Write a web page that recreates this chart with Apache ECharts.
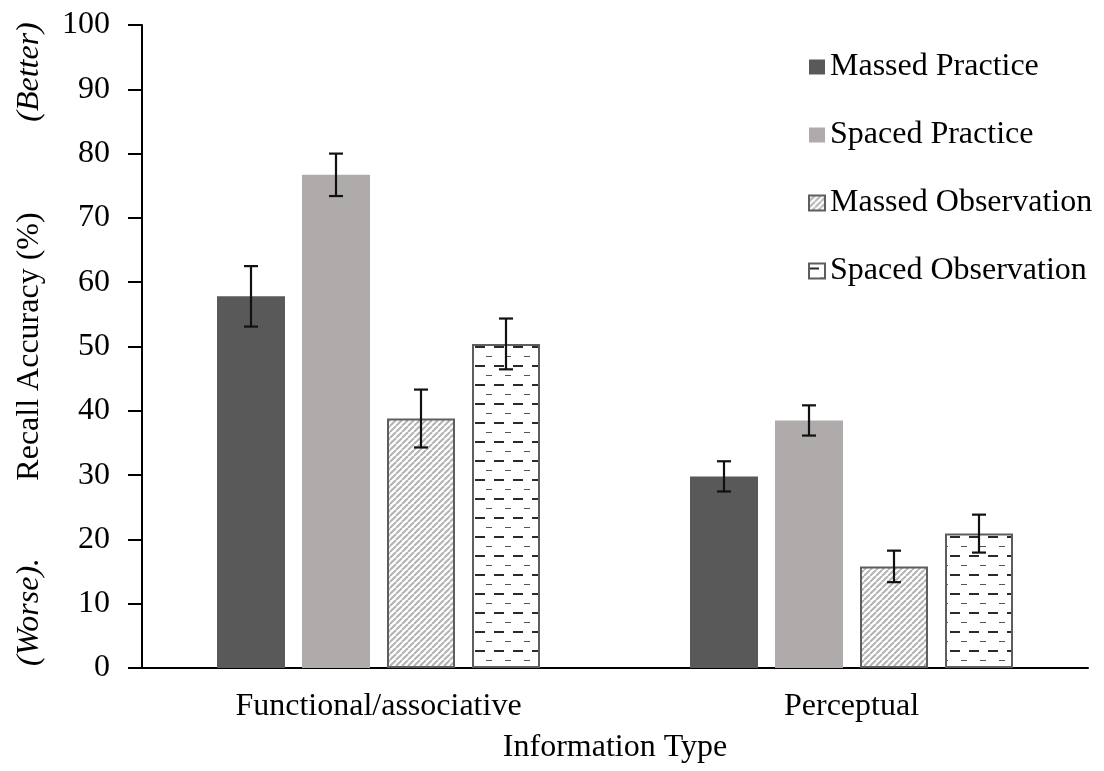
<!DOCTYPE html>
<html>
<head>
<meta charset="utf-8">
<script src="https://cdn.jsdelivr.net/npm/echarts@6/dist/echarts.min.js"></script>
<style>
html,body{margin:0;padding:0;background:#fff;}
#chart{width:1104px;height:771px;}
</style>
</head>
<body>
<div id="chart"></div>
<script>
// ---- data ----
const categories = ['Functional/associative', 'Perceptual'];
const seriesNames = ['Massed Practice', 'Spaced Practice', 'Massed Observation', 'Spaced Observation'];
const massedPractice = [57.8, 29.8];
const spacedPractice = [76.7, 38.5];
const massedObservation = [38.8, 15.8];
const spacedObservation = [50.4, 20.9];
const errMassedPractice = [4.7, 2.35];
const errSpacedPractice = [3.3, 2.35];
const errMassedObservation = [4.5, 2.45];
const errSpacedObservation = [3.95, 2.95];
const yMin = 0, yMax = 100, yInterval = 10;
const xAxisTitle = 'Information Type';
const yAxisTitle = 'Recall Accuracy (%)';
const betterLabel = '(Better)';
const worseLabel = '(Worse).';

// ---- styles ----
const FONT = "'Liberation Serif', 'Times New Roman', serif";
const BAR_W = 68;
const BAR_GAP = 17;

function hatchPattern() {
  const s = 6;
  const c = document.createElement('canvas');
  c.width = s; c.height = s;
  const g = c.getContext('2d');
  g.fillStyle = '#ffffff';
  g.fillRect(0, 0, s, s);
  g.strokeStyle = '#b3b3b3';
  g.lineWidth = 2;
  for (let k = -s; k <= s; k += s) {
    g.beginPath();
    g.moveTo(k, s);
    g.lineTo(k + s, 0);
    g.stroke();
  }
  return c;
}
function dashPattern() {
  const w = 19, h = 19;
  const c = document.createElement('canvas');
  c.width = w; c.height = h;
  const g = c.getContext('2d');
  g.fillStyle = '#ffffff';
  g.fillRect(0, 0, w, h);
  g.fillStyle = '#2a2a2a';
  g.fillRect(0, 4, 10, 2);
  g.fillStyle = '#555555';
  g.fillRect(11, 14, 6, 1);
  return c;
}

const valuesList = [massedPractice, spacedPractice, massedObservation, spacedObservation];
const errList = [errMassedPractice, errSpacedPractice, errMassedObservation, errSpacedObservation];
const styles = [
  { color: '#595959' },
  { color: '#afabab' },
  { color: { image: hatchPattern(), repeat: 'repeat' }, borderColor: '#5e5e5e', borderWidth: 2 },
  { color: { image: dashPattern(), repeat: 'repeat' }, borderColor: '#5e5e5e', borderWidth: 2 }
];

const barSeries = seriesNames.map((name, i) => ({
  name: name,
  type: 'bar',
  data: valuesList[i],
  barWidth: BAR_W,
  barGap: (BAR_GAP / BAR_W * 100) + '%',
  itemStyle: styles[i],
  emphasis: { disabled: true },
  z: 2
}));

const errData = [];
errList.forEach((arr, si) => {
  arr.forEach((e, ci) => {
    const v = valuesList[si][ci];
    errData.push([ci, v - e, v + e, si]);
  });
});

const errSeries = {
  type: 'custom',
  name: 'err',
  data: errData,
  encode: { x: 0, y: [1, 2] },
  z: 10,
  silent: true,
  renderItem: function (params, api) {
    const ci = api.value(0);
    const si = api.value(3);
    const n = seriesNames.length;
    const offset = (si - (n - 1) / 2) * (BAR_W + BAR_GAP);
    const lo = api.coord([ci, api.value(1)]);
    const hi = api.coord([ci, api.value(2)]);
    const x = lo[0] + offset;
    const cap = 7;
    const st = { stroke: '#111', lineWidth: 2.2 };
    return {
      type: 'group',
      children: [
        { type: 'line', shape: { x1: x, y1: lo[1], x2: x, y2: hi[1] }, style: st },
        { type: 'line', shape: { x1: x - cap, y1: lo[1], x2: x + cap, y2: lo[1] }, style: st },
        { type: 'line', shape: { x1: x - cap, y1: hi[1], x2: x + cap, y2: hi[1] }, style: st }
      ]
    };
  }
};

const chart = echarts.init(document.getElementById('chart'), null, { renderer: 'canvas' });
chart.setOption({
  animation: false,
  backgroundColor: '#ffffff',
  textStyle: { fontFamily: FONT, color: '#000' },
  grid: { left: 142, right: 16, top: 25, bottom: 103, containLabel: false },
  legend: {
    data: seriesNames,
    orient: 'vertical',
    left: 803,
    top: 46,
    icon: 'rect',
    itemWidth: 16,
    itemHeight: 15,
    itemGap: 36,
    textStyle: { fontFamily: FONT, fontSize: 32, color: '#000', lineHeight: 32 },
    selectedMode: false
  },
  xAxis: {
    type: 'category',
    data: categories,
    name: xAxisTitle,
    nameLocation: 'middle',
    nameGap: 64,
    nameTextStyle: { fontFamily: FONT, fontSize: 32, color: '#000' },
    axisLine: { lineStyle: { color: '#000', width: 2 } },
    axisTick: { show: false },
    axisLabel: { fontFamily: FONT, fontSize: 32, color: '#000', margin: 23 },
    splitLine: { show: false }
  },
  yAxis: {
    type: 'value',
    min: yMin,
    max: yMax,
    interval: yInterval,
    name: yAxisTitle,
    nameLocation: 'middle',
    nameGap: 96,
    nameTextStyle: { fontFamily: FONT, fontSize: 32, color: '#000' },
    axisLine: { show: true, lineStyle: { color: '#000', width: 2 } },
    axisTick: { show: true, length: 14, lineStyle: { color: '#000', width: 2 } },
    axisLabel: { fontFamily: FONT, fontSize: 32, color: '#000', margin: 32 },
    splitLine: { show: false }
  },
  graphic: [
    {
      type: 'text', x: 30, y: 72, rotation: Math.PI / 2,
      style: { text: betterLabel, font: 'italic 32px ' + FONT, fill: '#000', align: 'center', verticalAlign: 'middle' }
    },
    {
      type: 'text', x: 30, y: 612, rotation: Math.PI / 2,
      style: { text: worseLabel, font: 'italic 32px ' + FONT, fill: '#000', align: 'center', verticalAlign: 'middle' }
    }
  ],
  series: barSeries.concat([errSeries])
});
</script>
</body>
</html>
